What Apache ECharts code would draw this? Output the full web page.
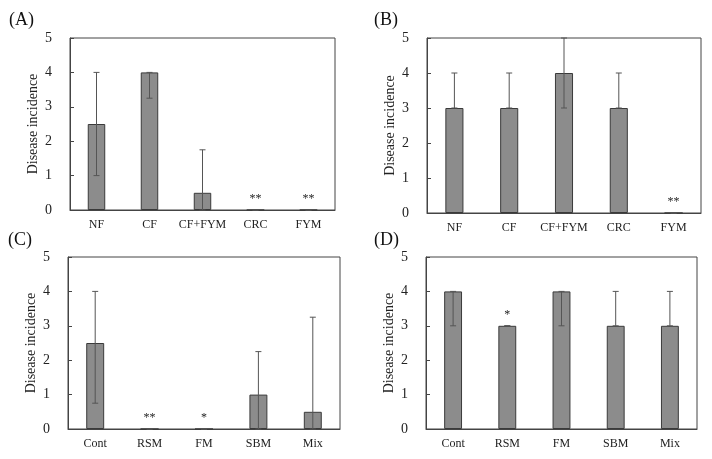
<!DOCTYPE html>
<html>
<head>
<meta charset="utf-8">
<script src="https://cdn.jsdelivr.net/npm/echarts@6/dist/echarts.min.js"></script>
<style>html,body{margin:0;padding:0;background:#fff;}#c{width:712px;height:459px;}</style>
</head>
<body>
<div id="c"></div>
<script>
var catsAB = ['NF', 'CF', 'CF+FYM', 'CRC', 'FYM'];
var catsCD = ['Cont', 'RSM', 'FM', 'SBM', 'Mix'];
var panelLabels = ['(A)', '(B)', '(C)', '(D)'];
var yTicks = [0, 1, 2, 3, 4, 5];

var valsA = [2.5, 4, 0.5, 0, 0];
var lowA  = [1, 3.25, 0, 0, 0];
var highA = [4, 4, 1.75, 0, 0];
var sigA  = ['', '', '', '**', '**'];

var valsB = [3, 3, 4, 3, 0];
var lowB  = [3, 3, 3, 3, 0];
var highB = [4, 4, 5, 4, 0];
var sigB  = ['', '', '', '', '**'];

var valsC = [2.5, 0, 0, 1, 0.5];
var lowC  = [0.75, 0, 0, 0, 0];
var highC = [4, 0, 0, 2.25, 3.25];
var sigC  = ['', '**', '*', '', ''];

var valsD = [4, 3, 4, 3, 3];
var lowD  = [3, 3, 3, 3, 3];
var highD = [4, 3, 4, 4, 4];
var sigD  = ['', '*', '', '', ''];

var panels = [
  {cats: catsAB, vals: valsA, low: lowA, high: highA, sig: sigA},
  {cats: catsAB, vals: valsB, low: lowB, high: highB, sig: sigB},
  {cats: catsCD, vals: valsC, low: lowC, high: highC, sig: sigC},
  {cats: catsCD, vals: valsD, low: lowD, high: highD, sig: sigD}
];

var grids = [
  {left: 70, top: 38, width: 265, height: 172},
  {left: 427, top: 38, width: 274, height: 175},
  {left: 68, top: 257, width: 272, height: 172},
  {left: 426, top: 257, width: 271, height: 172}
];
var labelPos = [[9, 11], [374, 11], [8, 231], [374, 231]];

var FONT = '"Liberation Serif", "DejaVu Serif", serif';
var chart = echarts.init(document.getElementById('c'), null, {renderer: 'canvas'});

var option = {
  backgroundColor: '#fff',
  animation: false,
  grid: grids.map(function (g) {
    return Object.assign({show: true, borderColor: '#444', borderWidth: 1, backgroundColor: 'transparent', containLabel: false}, g);
  }),
  xAxis: panels.map(function (p, i) {
    return {
      type: 'category', gridIndex: i, data: p.cats,
      axisLine: {lineStyle: {color: '#444', width: 1}},
      axisTick: {show: false},
      axisLabel: {fontFamily: FONT, fontSize: 12, color: '#222', margin: 9, interval: 0}
    };
  }),
  yAxis: panels.map(function (p, i) {
    return {
      type: 'value', gridIndex: i, min: yTicks[0], max: yTicks[yTicks.length - 1], interval: 1,
      name: 'Disease incidence', nameLocation: 'middle', nameGap: 30,
      nameTextStyle: {fontFamily: FONT, fontSize: 14, color: '#222'},
      axisLine: {show: true, lineStyle: {color: '#444', width: 1}},
      axisTick: {show: true, inside: true, length: 4, lineStyle: {color: '#444'}},
      splitLine: {show: false},
      axisLabel: {fontFamily: FONT, fontSize: 14, color: '#222', margin: 18}
    };
  }),
  graphic: panelLabels.map(function (t, i) {
    return {type: 'text', left: labelPos[i][0], top: labelPos[i][1],
      style: {text: t, font: '18px ' + FONT, fill: '#111'}};
  }),
  series: []
};

panels.forEach(function (p, i) {
  option.series.push({
    type: 'bar', xAxisIndex: i, yAxisIndex: i,
    data: p.vals, barWidth: '33%',
    itemStyle: {color: '#8c8c8c', borderColor: '#3a3a3a', borderWidth: 1},
    label: {show: true, position: 'top', distance: 5,
      fontFamily: FONT, fontSize: 12, color: '#222',
      formatter: function (d) { return p.sig[d.dataIndex]; }},
    z: 2
  });
  option.series.push({
    type: 'custom', xAxisIndex: i, yAxisIndex: i,
    data: p.cats.map(function (c, k) { return [k, p.low[k], p.high[k]]; }),
    renderItem: function (params, api) {
      var x = api.value(0);
      var lo = api.coord([x, api.value(1)]);
      var hi = api.coord([x, api.value(2)]);
      var cw = 3;
      var st = {stroke: '#555', lineWidth: 1};
      return {type: 'group', children: [
        {type: 'line', shape: {x1: lo[0], y1: lo[1], x2: hi[0], y2: hi[1]}, style: st},
        {type: 'line', shape: {x1: hi[0] - cw, y1: hi[1], x2: hi[0] + cw, y2: hi[1]}, style: st},
        {type: 'line', shape: {x1: lo[0] - cw, y1: lo[1], x2: lo[0] + cw, y2: lo[1]}, style: st}
      ]};
    },
    z: 3
  });
});

chart.setOption(option);
</script>
</body>
</html>
